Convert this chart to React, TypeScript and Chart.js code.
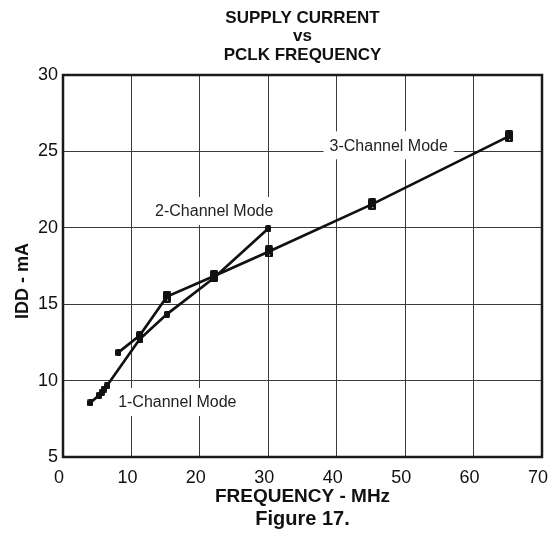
import React, { useEffect, useRef } from "react";
import { Chart, registerables } from "chart.js";

Chart.register(...registerables);

// ---- data ----
const xTickValues = [0, 10, 20, 30, 40, 50, 60, 70];
const yTickValues = [5, 10, 15, 20, 25, 30];

const oneChannelFreq = [4.0, 5.3, 5.7, 6.0, 6.4, 11.2];
const oneChannelIdd = [8.55, 9.05, 9.25, 9.45, 9.65, 12.7];

const twoChannelFreq = [11.2, 15.2, 22.0, 30.0];
const twoChannelIdd = [12.7, 14.35, 16.7, 19.95];

const threeChannelFreq = [8.1, 11.2, 15.2, 22.1, 30.1, 45.2, 65.2];
const threeChannelIdd = [11.85, 12.95, 15.5, 16.85, 18.45, 21.55, 26.0];

const titleLines = ["SUPPLY CURRENT", "vs", "PCLK FREQUENCY"];
const xAxisTitle = "FREQUENCY - MHz";
const yAxisTitle = "IDD - mA";
const figureCaption = "Figure 17.";

const noteTexts = ["1-Channel Mode", "2-Channel Mode", "3-Channel Mode"];
const noteFreq = [16.7, 22.1, 47.6];
const noteIdd = [8.6, 21.1, 25.4];

const FONT = "'Liberation Sans', Arial, Helvetica, sans-serif";

function makeMarker(w: number, h: number, dot: boolean) {
  const c = document.createElement("canvas");
  c.width = w;
  c.height = h;
  const g = c.getContext("2d")!;
  g.fillStyle = "#111";
  g.beginPath();
  (g as any).roundRect ? (g as any).roundRect(0, 0, w, h, 1.5) : g.rect(0, 0, w, h);
  g.fill();
  if (dot) {
    g.fillStyle = "#fff";
    g.fillRect(Math.floor(w / 2), h - 3, 1, 1);
  }
  return c;
}

const decorPlugin = {
  id: "decor",
  beforeDatasetsDraw(chart: any) {
    const { ctx } = chart;
    const x = chart.scales.x;
    const y = chart.scales.y;
    ctx.save();
    ctx.font = `16px ${FONT}`;
    ctx.textAlign = "center";
    ctx.textBaseline = "middle";
    noteTexts.forEach((t, i) => {
      const px = x.getPixelForValue(noteFreq[i]);
      const py = y.getPixelForValue(noteIdd[i]);
      const w = ctx.measureText(t).width + 12;
      ctx.fillStyle = "#fff";
      ctx.fillRect(px - w / 2, py - 14, w, 28);
      ctx.fillStyle = "#222";
      ctx.fillText(t, px, py + 1);
    });
    ctx.restore();
  },
  afterDatasetsDraw(chart: any) {
    const { ctx, chartArea } = chart;
    const { left, top, right, bottom } = chartArea;
    ctx.save();
    ctx.strokeStyle = "#1a1a1a";
    ctx.lineWidth = 2.5;
    ctx.strokeRect(left, top, right - left, bottom - top);
    ctx.restore();
  },
};

export default function App() {
  const canvasRef = useRef<HTMLCanvasElement | null>(null);

  useEffect(() => {
    if (!canvasRef.current) return;
    const small = makeMarker(6, 7, false);
    const mid = makeMarker(7, 9, false);
    const big = makeMarker(8, 12, true);

    const toPts = (xs: number[], ys: number[]) => xs.map((v, i) => ({ x: v, y: ys[i] }));
    const lineStyle = {
      showLine: true,
      borderColor: "#111",
      backgroundColor: "#111",
      borderWidth: 2.7,
      tension: 0,
      pointRadius: 3,
    };

    const chart = new Chart(canvasRef.current, {
      type: "scatter",
      data: {
        datasets: [
          {
            label: noteTexts[0],
            data: toPts(oneChannelFreq, oneChannelIdd),
            ...lineStyle,
            pointStyle: oneChannelFreq.map(() => small) as any,
          },
          {
            label: noteTexts[1],
            data: toPts(twoChannelFreq, twoChannelIdd),
            ...lineStyle,
            pointStyle: [small, small, small, small] as any,
          },
          {
            label: noteTexts[2],
            data: toPts(threeChannelFreq, threeChannelIdd),
            ...lineStyle,
            pointStyle: [small, mid, big, big, big, big, big] as any,
          },
        ],
      },
      options: {
        animation: false,
        responsive: false,
        devicePixelRatio: 1,
        layout: { padding: 0 },
        plugins: {
          legend: { display: false },
          tooltip: { enabled: false },
          title: {
            display: true,
            text: titleLines,
            fullSize: false,
            color: "#111",
            font: { family: FONT, size: 17, weight: "bold", lineHeight: "18.5px" },
            padding: { top: 9, bottom: 10.5 },
          },
          subtitle: {
            display: true,
            position: "bottom",
            text: figureCaption,
            fullSize: false,
            color: "#111",
            font: { family: FONT, size: 20, weight: "bold", lineHeight: "24px" },
            padding: { top: 0, bottom: 8 },
          },
        },
        scales: {
          x: {
            type: "linear",
            min: 0,
            max: 70,
            afterBuildTicks: (s: any) => {
              s.ticks = xTickValues.map((v) => ({ value: v }));
            },
            afterFit: (s: any) => {
              s.height = 50;
              s.paddingLeft = 0;
              s.paddingRight = 9;
            },
            grid: { color: "#3a3a3a", lineWidth: 1, drawTicks: false },
            border: { display: false },
            ticks: {
              padding: 10,
              labelOffset: -4,
              color: "#111",
              font: { family: FONT, size: 18 },
              maxRotation: 0,
              callback: (v: any) => String(v),
            },
            title: {
              display: true,
              text: xAxisTitle,
              color: "#111",
              font: { family: FONT, size: 19, weight: "bold", lineHeight: 1.0 },
              padding: { top: 0, bottom: 0.5 },
            },
          },
          y: {
            type: "linear",
            min: 5,
            max: 30,
            afterBuildTicks: (s: any) => {
              s.ticks = yTickValues.map((v) => ({ value: v }));
            },
            afterFit: (s: any) => {
              s.width = 63;
            },
            grid: { color: "#3a3a3a", lineWidth: 1, drawTicks: false },
            border: { display: false },
            ticks: {
              padding: 5,
              color: "#111",
              font: { family: FONT, size: 18 },
              callback: (v: any) => String(v),
            },
            title: {
              display: true,
              text: yAxisTitle + "      ",
              color: "#111",
              font: { family: FONT, size: 18, weight: "bold", lineHeight: 1.2 },
              padding: { top: 12, bottom: 0 },
            },
          },
        },
      },
      plugins: [decorPlugin],
    } as any);

    return () => chart.destroy();
  }, []);

  return (
    <div style={{ position: "absolute", left: 0, top: 0, width: 551, height: 539, background: "#fff" }}>
      <canvas ref={canvasRef} width={551} height={539} style={{ display: "block" }} />
    </div>
  );
}
